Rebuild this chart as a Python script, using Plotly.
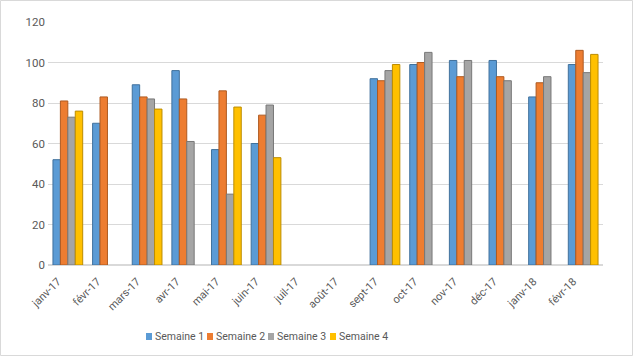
import plotly.graph_objects as go

categories = ["janv-17", "févr-17", "mars-17", "avr-17", "mai-17", "juin-17", "juil-17",
              "août-17", "sept-17", "oct-17", "nov-17", "déc-17", "janv-18", "févr-18"]
series_names = ["Semaine 1", "Semaine 2", "Semaine 3", "Semaine 4"]
semaine1 = [52, 70, 89, 96, 57, 60, None, None, 92, 99, 101, 101, 83, 99]
semaine2 = [81, 83, 83, 82, 86, 74, None, None, 91, 100, 93, 93, 90, 106]
semaine3 = [73, None, 82, 61, 35, 79, None, None, 96, 105, 101, 91, 93, 95]
semaine4 = [76, None, 77, None, 78, 53, None, None, 99, None, None, None, None, 104]
y_ticks = [0, 20, 40, 60, 80, 100, 120]

colors = ["#5b9bd5", "#ed7d31", "#a5a5a5", "#ffc000"]
edges = ["#41719c", "#ae5a21", "#787878", "#bc8c00"]
FONT = "Roboto, sans-serif"

W, H = 633, 356
L, R, T, B = 48, 30, 22, 91
pw, ph = W - L - R, H - T - B

fig = go.Figure()
for name, vals, c, e in zip(series_names, [semaine1, semaine2, semaine3, semaine4], colors, edges):
    fig.add_trace(go.Bar(x=categories, y=vals, name=name, showlegend=False,
                         marker=dict(color=c, line=dict(color=e, width=1))))

# manual compact legend (Excel style)
leg_x = [146, 207, 268, 330]
leg_y = 336.5
for name, c, lx in zip(series_names, colors, leg_x):
    fig.add_shape(type="rect", xref="paper", yref="paper",
                  x0=(lx - L) / pw, x1=(lx + 6 - L) / pw,
                  y0=(H - B - (leg_y + 3.5)) / ph, y1=(H - B - (leg_y - 3.5)) / ph,
                  fillcolor=c, line=dict(width=0))
    fig.add_annotation(text=name, xref="paper", yref="paper",
                       x=(lx + 7 - L) / pw, y=(H - B - leg_y) / ph,
                       xanchor="left", yanchor="middle", showarrow=False,
                       font=dict(family=FONT, size=10.5, color="#595959"))

fig.update_layout(
    width=W, height=H,
    barmode="group", bargap=0.25, bargroupgap=0.0,
    margin=dict(l=L, r=R, t=T, b=B, autoexpand=False),
    paper_bgcolor="white", plot_bgcolor="white",
    font=dict(family=FONT, size=11, color="#595959"),
    showlegend=False,
)
fig.update_xaxes(tickangle=-45, showgrid=False, showline=False, ticks="", automargin=False,
                 ticklabelshift=-10, ticklabelstandoff=7,
                 tickfont=dict(family=FONT, size=11, color="#595959"))
fig.update_yaxes(range=[0, 120], tickvals=y_ticks, showgrid=True, gridcolor="#d9d9d9",
                 gridwidth=1, zeroline=True, zerolinecolor="#d9d9d9", showline=False,
                 ticks="", automargin=False, ticklabelstandoff=2,
                 tickfont=dict(family=FONT, size=11.5, color="#595959"))
fig.add_shape(type="rect", xref="paper", yref="paper",
              x0=-(L - 0.5) / pw, x1=1 + (R - 0.5) / pw,
              y0=-(B - 0.5) / ph, y1=1 + (T - 0.5) / ph,
              line=dict(color="#d9d9d9", width=1))
fig.write_html("out.html", config={"displayModeBar": False},
               post_script="document.body.style.margin='0';")
